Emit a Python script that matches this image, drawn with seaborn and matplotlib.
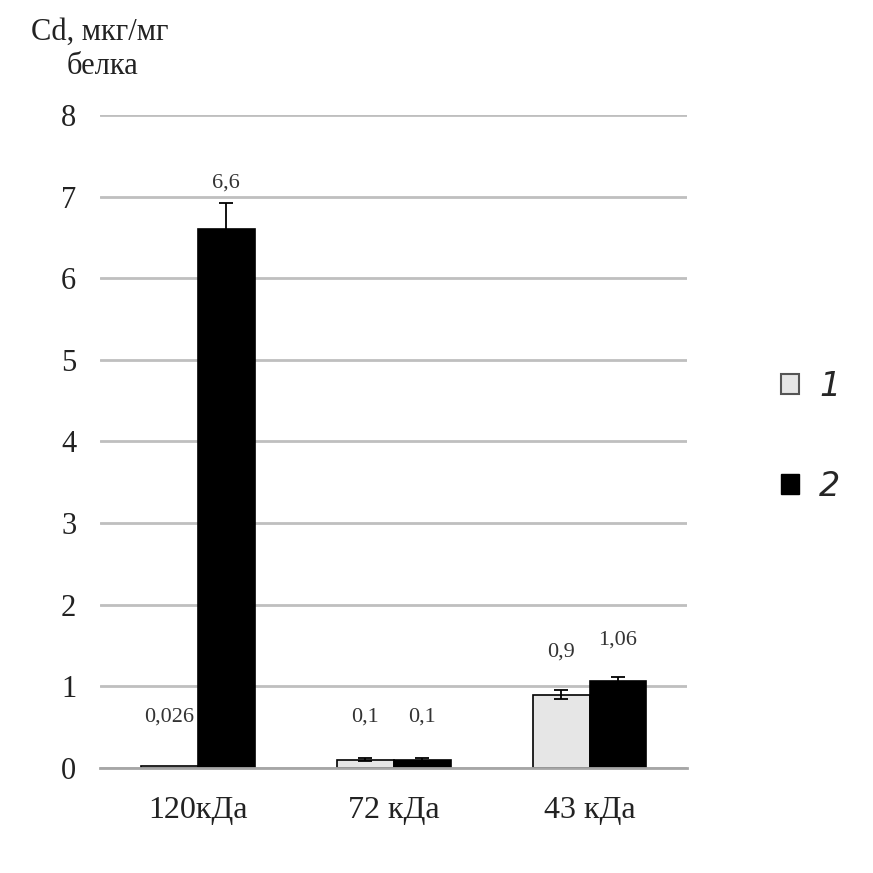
import pandas as pd
import matplotlib.pyplot as plt
import seaborn as sns
from matplotlib.patches import Patch

# Data
categories = ['120кДа', '72 кДа', '43 кДа']
series_names = ['1', '2']
values_1 = [0.026, 0.1, 0.9]
values_2 = [6.6, 0.1, 1.06]
errors_1 = [0.0, 0.02, 0.06]
errors_2 = [0.32, 0.02, 0.05]
labels_1 = ['0,026', '0,1', '0,9']
labels_2 = ['6,6', '0,1', '1,06']

df = pd.DataFrame({
    'cat': categories * 2,
    'series': [series_names[0]] * 3 + [series_names[1]] * 3,
    'value': values_1 + values_2,
})

sns.set_style('white')
plt.rcParams['font.family'] = ['Liberation Serif', 'DejaVu Serif']

fig = plt.figure(figsize=(8.73, 8.73), dpi=100)
ax = fig.add_axes([0.1145, 0.1203, 0.673, 0.748])

colors = {'1': '#e6e6e6', '2': '#000000'}
sns.barplot(data=df, x='cat', y='value', hue='series', palette=colors,
            width=0.58, errorbar=None, edgecolor='#000000', linewidth=1.2,
            legend=False, ax=ax)

# error bars and value labels from the drawn bars
for cont, errs, labs in zip(ax.containers, [errors_1, errors_2], [labels_1, labels_2]):
    for bar, e, lab in zip(cont.patches, errs, labs):
        x = bar.get_x() + bar.get_width() / 2
        h = bar.get_height()
        if e > 0:
            ax.errorbar(x, h, yerr=[[e], [e]], fmt='none', ecolor='black',
                        elinewidth=1.3, capsize=5, capthick=1.3)
        if h > 3:
            ty = h + e + 0.25
        else:
            ty = max(h + e + 0.46, 0.62)
        ax.text(x, ty, lab, ha='center', va='center', fontsize=16, color='#333333')

ax.set_ylim(0, 8)
ax.set_xlim(-0.5, 2.5)
ax.set_yticks(range(0, 9))
ax.yaxis.grid(True, color='#bfbfbf', linewidth=2)
ax.set_axisbelow(True)
for s in ['left', 'top', 'right']:
    ax.spines[s].set_visible(False)
ax.spines['bottom'].set_color('#a6a6a6')
ax.spines['bottom'].set_linewidth(2)
ax.set_xticks([-0.5, 0.5, 1.5, 2.5], minor=True)
ax.tick_params(axis='x', which='minor', length=7, width=1.5, color='#a6a6a6')
ax.tick_params(axis='x', which='major', length=0, pad=20, labelsize=23, labelcolor='#222222')
ax.tick_params(axis='y', length=0, pad=17, labelsize=22, labelcolor='#222222')
ax.set_xlabel('')
ax.set_ylabel('')

fig.text(0.036, 0.963, 'Cd, мкг/мг', fontsize=22, ha='left', va='center', color='#222222')
fig.text(0.076, 0.924, 'белка', fontsize=22, ha='left', va='center', color='#222222')

handles = [Patch(facecolor='#e6e6e6', edgecolor='#555555', linewidth=1.5),
           Patch(facecolor='#000000', edgecolor='#000000')]
leg = fig.legend(handles, series_names, loc='center left', bbox_to_anchor=(0.86, 0.50),
                 frameon=False, handlelength=0.55, handleheight=0.55, labelspacing=2.0,
                 handletextpad=0.6,
                 prop={'family': 'DejaVu Sans', 'style': 'italic', 'size': 24})

fig.savefig('out.png', dpi=100)
